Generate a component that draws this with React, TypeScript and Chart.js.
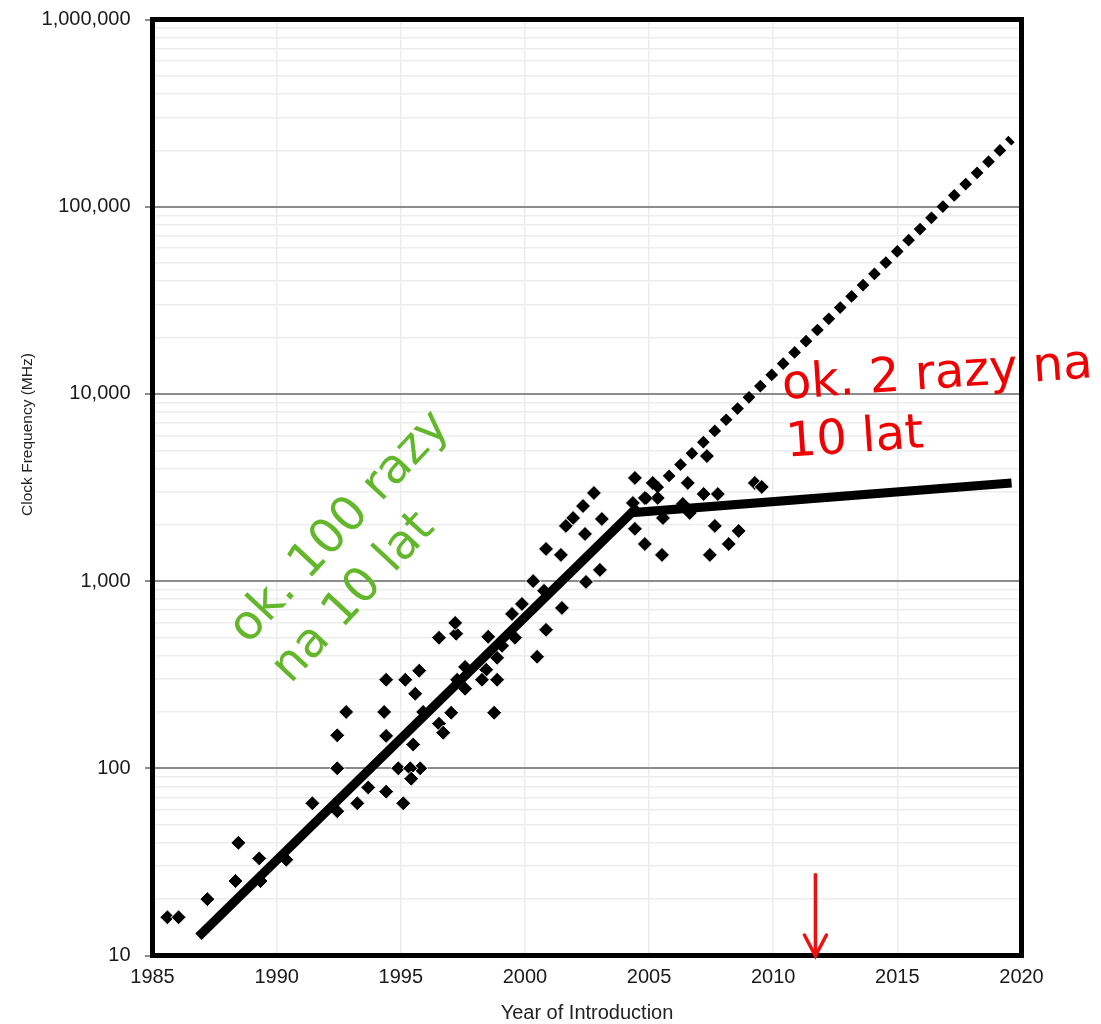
import React, { useEffect, useRef } from 'react';
import { Chart, registerables } from 'chart.js';

Chart.register(...registerables);

// Scatter: processors, year of introduction vs. clock frequency (MHz)
const YEARS = [
  1985.6, 1986.05, 1987.21, 1988.34, 1988.46, 1989.3, 1989.35, 1990.39, 1991.44, 1992.44,
  1992.44, 1993.25, 1993.69, 1992.44, 1992.8, 1994.41, 1995.18, 1995.74, 1995.58, 1994.33,
  1994.41, 1995.5, 1994.9, 1995.78, 1995.38, 1995.42, 1994.41, 1995.1, 1995.9, 1996.54,
  1996.71, 1997.03, 1997.27, 1997.59, 1997.59, 1998.44, 1998.27, 1998.88, 1998.76, 1996.54,
  1997.23, 1997.19, 1998.52, 1998.88, 1999.08, 1999.6, 1999.48, 1999.88, 2000.49, 2000.85,
  2000.77, 2000.33, 2001.49, 2000.85, 2001.45, 2002.46, 2003.02, 2002.42, 2001.94, 2002.34,
  2002.78, 2003.1, 2001.65, 2004.43, 2005.15, 2005.35, 2004.83, 2004.35, 2004.43, 2004.83,
  2005.52, 2005.56, 2006.56, 2006.36, 2006.64, 2007.2, 2007.77, 2007.33, 2007.65, 2008.61,
  2008.21, 2007.45, 2009.26, 2009.54,
];
const CLOCK_MHZ = [
  16, 16, 20, 25, 40, 33, 25, 32.5, 65, 100,
  59, 65, 79, 150, 200, 297, 297, 332, 250, 200,
  149, 134, 100, 100, 100, 88, 75, 65, 200, 173,
  155, 198, 297, 266, 348, 336, 297, 297, 198, 498,
  523, 598, 504, 389, 451, 498, 668, 755, 394, 549,
  887, 1000, 719, 1486, 1380, 990, 1148, 1786, 2173, 2518,
  2956, 2147, 1972, 3557, 3345, 2780, 2780, 2614, 1901, 1578,
  1380, 2173, 3345, 2583, 2312, 2919, 2919, 4656, 1972, 1854,
  1578, 1380, 3345, 3184,
];

// Trend lines
const TREND_YEARS = [1986.85, 2004.3, 2019.6];
const TREND_MHZ = [12.6, 2320, 3340];
const PROJECTION_YEARS = [2004.3, 2019.6];
const PROJECTION_MHZ = [2320, 230000];

// Axes
const X_TICKS = [1985, 1990, 1995, 2000, 2005, 2010, 2015, 2020];
const Y_TICKS = [10, 100, 1000, 10000, 100000, 1000000];
const Y_TICK_LABELS = ['10', '100', '1,000', '10,000', '100,000', '1,000,000'];
const X_TITLE = 'Year of Introduction';
const Y_TITLE = 'Clock Frequency (MHz)';

// Annotations
const ARROW_YEAR = 2011.7;
const ARROW_TOP_MHZ = 27.5;
const ARROW_TIP_MHZ = 10;
const GREEN_TEXT = ['ok. 100 razy', 'na 10 lat'];
const GREEN_AT = { year: 1988.85, mhz: 456 };
const RED_TEXT = ['ok. 2 razy na', '10 lat'];
const RED_AT = { year: 2010.39, mhz: 9400 };

const SANS = '"Liberation Sans", Arial, sans-serif';

const overlayPlugin = {
  id: 'overlay',
  afterDraw(chart: any) {
    const { ctx, chartArea: a, scales } = chart;
    const x = scales.x;
    const y = scales.y;
    ctx.save();
    // frame
    ctx.strokeStyle = '#000';
    ctx.lineWidth = 5;
    ctx.strokeRect(a.left, a.top, a.right - a.left, a.bottom - a.top);

    // y title
    ctx.save();
    ctx.translate(28, 434.5);
    ctx.rotate(-Math.PI / 2);
    ctx.font = '15.5px ' + SANS;
    ctx.fillStyle = '#222';
    ctx.textAlign = 'center';
    ctx.textBaseline = 'middle';
    ctx.fillText(Y_TITLE, 0, 0);
    ctx.restore();

    // green annotation
    ctx.save();
    ctx.translate(x.getPixelForValue(GREEN_AT.year), y.getPixelForValue(GREEN_AT.mhz));
    ctx.rotate((-47 * Math.PI) / 180);
    ctx.font = '48px "DejaVu Sans"';
    ctx.fillStyle = '#62B72B';
    ctx.textAlign = 'left';
    ctx.textBaseline = 'alphabetic';
    GREEN_TEXT.forEach((t, i) => ctx.fillText(t, 0, i * 58));
    ctx.restore();

    // red annotation
    ctx.save();
    ctx.translate(x.getPixelForValue(RED_AT.year), y.getPixelForValue(RED_AT.mhz));
    ctx.rotate((-4 * Math.PI) / 180);
    ctx.font = '48px "DejaVu Sans"';
    ctx.fillStyle = '#F00000';
    ctx.textAlign = 'left';
    ctx.textBaseline = 'alphabetic';
    RED_TEXT.forEach((t, i) => ctx.fillText(t, 0, i * 58));
    ctx.restore();

    // red arrow
    const px = x.getPixelForValue(ARROW_YEAR);
    const top = y.getPixelForValue(ARROW_TOP_MHZ);
    const tip = y.getPixelForValue(ARROW_TIP_MHZ) + 0.5;
    ctx.strokeStyle = '#EE1111';
    ctx.lineWidth = 3.5;
    ctx.lineCap = 'butt';
    ctx.beginPath();
    ctx.moveTo(px, top);
    ctx.lineTo(px, tip - 2);
    ctx.stroke();
    ctx.lineCap = 'round';
    ctx.lineJoin = 'miter';
    ctx.beginPath();
    ctx.moveTo(px - 11, tip - 21);
    ctx.lineTo(px, tip);
    ctx.lineTo(px + 11, tip - 21);
    ctx.stroke();
    ctx.restore();
  },
};

export default function App() {
  const ref = useRef<HTMLCanvasElement | null>(null);

  useEffect(() => {
    if (!ref.current) return;
    const scatter = YEARS.map((yr, i) => ({ x: yr, y: CLOCK_MHZ[i] }));
    const trend = TREND_YEARS.map((yr, i) => ({ x: yr, y: TREND_MHZ[i] }));
    const proj = PROJECTION_YEARS.map((yr, i) => ({ x: yr, y: PROJECTION_MHZ[i] }));

    const chart = new Chart(ref.current, {
      type: 'scatter',
      data: {
        datasets: [
          {
            label: 'trend',
            type: 'line',
            data: trend,
            borderColor: '#000',
            borderWidth: 9,
            pointRadius: 0,
            fill: false,
            tension: 0,
            borderJoinStyle: 'miter',
          } as any,
          {
            label: 'projection',
            type: 'line',
            data: proj,
            borderColor: '#000',
            borderWidth: 9,
            borderDash: [9, 7],
            borderCapStyle: 'butt',
            pointRadius: 0,
            fill: false,
            tension: 0,
          } as any,
          {
            label: 'processors',
            data: scatter,
            pointStyle: 'rectRot',
            pointRadius: 7.5,
            pointBackgroundColor: '#000',
            pointBorderColor: '#fff',
            pointBorderWidth: 1,
          } as any,
        ],
      },
      options: {
        animation: false,
        responsive: false,
        devicePixelRatio: 1,
        layout: { autoPadding: false, padding: { top: 19.5, right: 79.5, left: 0, bottom: 0 } },
        plugins: {
          legend: { display: false },
          tooltip: { enabled: false },
        },
        scales: {
          x: {
            type: 'linear',
            min: 1985,
            max: 2020,
            afterBuildTicks: (s: any) => {
              s.ticks = X_TICKS.map((v) => ({ value: v }));
            },
            afterFit: (s: any) => {
              s.height = 68.5;
              s.paddingLeft = 0;
              s.paddingRight = 0;
            },
            border: { display: false },
            grid: { color: '#ececec', lineWidth: 1.5, drawTicks: false },
            ticks: {
              padding: 10,
              color: '#1a1a1a',
              font: { family: SANS, size: 20 },
              maxRotation: 0,
              autoSkip: false,
              callback: (v: any) => String(v),
            },
            title: {
              display: true,
              text: X_TITLE,
              color: '#222',
              font: { family: SANS, size: 20, lineHeight: 0.8 },
              padding: { top: 0, bottom: 3 },
            },
          },
          y: {
            type: 'logarithmic',
            min: 10,
            max: 1000000,
            afterBuildTicks: (s: any) => {
              const t: any[] = [];
              for (let i = 0; i < Y_TICKS.length - 1; i++) {
                for (let m = 1; m <= 9; m++) t.push({ value: m * Y_TICKS[i], major: m === 1 });
              }
              t.push({ value: Y_TICKS[Y_TICKS.length - 1], major: true });
              s.ticks = t;
            },
            afterFit: (s: any) => {
              s.width = 152.5;
              s.paddingTop = 0;
              s.paddingBottom = 0;
            },
            border: { display: false },
            grid: {
              color: (c: any) => (Y_TICKS.includes(c.tick?.value) ? '#8c8c8c' : '#ededed'),
              lineWidth: (c: any) => (Y_TICKS.includes(c.tick?.value) ? 2 : 1.5),
              tickColor: (c: any) => (Y_TICKS.includes(c.tick?.value) ? '#8c8c8c' : 'rgba(0,0,0,0)'),
              tickLength: 7.5,
            },
            ticks: {
              padding: 14.5,
              color: '#1a1a1a',
              font: { family: SANS, size: 20 },
              autoSkip: false,
              callback: (v: any) => {
                const idx = Y_TICKS.indexOf(Number(v));
                return idx >= 0 ? Y_TICK_LABELS[idx] : '';
              },
            },
          },
        },
      },
      plugins: [overlayPlugin],
    });
    return () => chart.destroy();
  }, []);

  return (
    <div style={{ position: 'absolute', left: 0, top: 0, width: 1101, height: 1024, background: '#fff' }}>
      <canvas ref={ref} width={1101} height={1024} style={{ display: 'block' }} />
    </div>
  );
}
